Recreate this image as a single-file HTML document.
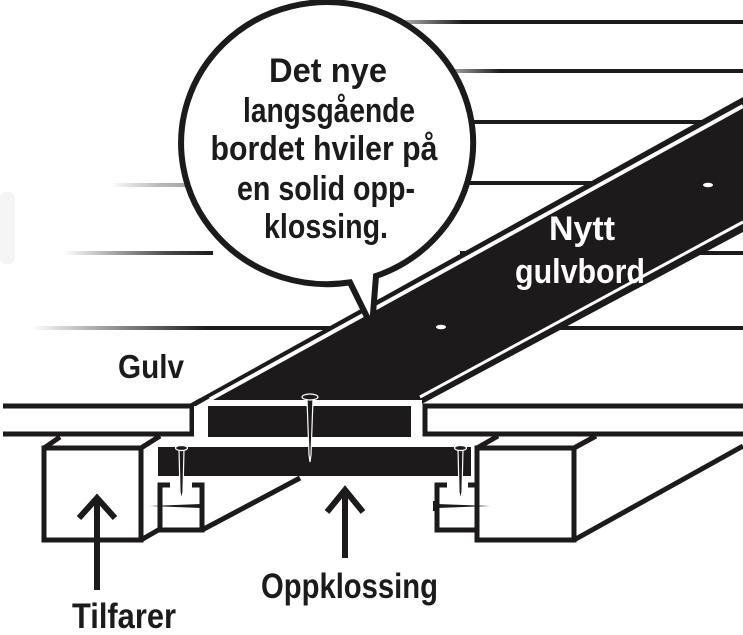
<!DOCTYPE html>
<html><head><meta charset="utf-8"><style>
html,body{margin:0;padding:0;background:#fff;}
svg{display:block;}
text{font-family:"Liberation Sans Narrow","Liberation Sans",sans-serif;font-weight:bold;}
</style></head><body>
<svg width="743" height="635" viewBox="0 0 743 635" xmlns="http://www.w3.org/2000/svg">
<defs>
<linearGradient id="g1" x1="0" x2="1"><stop offset="0" stop-color="#1c1a1a" stop-opacity="0"/><stop offset="0.25" stop-color="#1c1a1a"/><stop offset="1" stop-color="#1c1a1a"/></linearGradient>
<linearGradient id="g2" x1="0" x2="1"><stop offset="0" stop-color="#1c1a1a" stop-opacity="0"/><stop offset="0.6" stop-color="#1c1a1a" stop-opacity="0.3"/><stop offset="1" stop-color="#1c1a1a" stop-opacity="0.4"/></linearGradient>
<linearGradient id="g3" x1="0" x2="1"><stop offset="0" stop-color="#1c1a1a" stop-opacity="0"/><stop offset="0.7" stop-color="#1c1a1a" stop-opacity="0.8"/><stop offset="1" stop-color="#1c1a1a"/></linearGradient>
</defs>
<g fill="#1c1a1a">
<rect x="370" y="20" width="373" height="4" fill="url(#g1)"/>
<rect x="420" y="69" width="323" height="4" fill="url(#g1)"/>
<rect x="440" y="120" width="303" height="4"/>
<rect x="460" y="181" width="283" height="4"/>
<rect x="110" y="183" width="80" height="4" fill="url(#g2)"/>
<rect x="63" y="251" width="150" height="4" fill="url(#g3)"/>
<rect x="460" y="251" width="283" height="4"/>
<rect x="30" y="326" width="713" height="4" fill="url(#g1)"/>
</g>
<rect x="0" y="192" width="15" height="72" rx="6" fill="#f5f5f5"/>
<!-- board band -->
<polygon points="186,406 743,97 743,232 418,406" fill="#1c1a1a"/>
<line x1="198" y1="406" x2="743" y2="106" stroke="#fff" stroke-width="4"/>
<line x1="420" y1="397" x2="743" y2="222" stroke="#fff" stroke-width="3"/>
<ellipse cx="708" cy="185" rx="5" ry="2.3" fill="#fff"/>
<ellipse cx="441" cy="327" rx="5" ry="2.3" fill="#fff"/>
<text x="582" y="240" fill="#fff" font-size="34" text-anchor="middle" textLength="66" lengthAdjust="spacingAndGlyphs">Nytt</text>
<text x="580" y="283" fill="#fff" font-size="34" text-anchor="middle" textLength="130" lengthAdjust="spacingAndGlyphs">gulvbord</text>
<!-- front floor -->
<rect x="0" y="398" width="200" height="10" fill="#fff"/>
<path d="M3 406 H192 V434 H3" fill="none" stroke="#1c1a1a" stroke-width="5"/>
<path d="M743 406 H425 V434 H743" fill="none" stroke="#1c1a1a" stroke-width="5"/>
<rect x="194" y="400" width="228" height="40" fill="#fff"/>
<polygon points="186,406 200,398 210,398 196,406" fill="#1c1a1a"/>
<rect x="208" y="406" width="203" height="31" fill="#1c1a1a"/>
<!-- joists -->
<g fill="none" stroke="#1c1a1a" stroke-width="5">
<rect x="44" y="448" width="97" height="92"/>
<path d="M44 448 L60 437 M141 448 L160 436 M141 540 L160 529"/>
<rect x="477" y="448" width="97" height="92"/>
<path d="M574 448 L596 436 M574 540 L743 446 M477 448 L498 436"/>
<path d="M202 530 L300 478"/>
<path d="M170 485 H160 V530 H202 V485 H192"/>
<path d="M447 485 H437 V530 H477"/>
<path d="M468 485 H477"/>
</g>
<rect x="158" y="447" width="313" height="29" fill="#1c1a1a"/>
<!-- nails -->
<g stroke="#fff" stroke-width="1.2" fill="#1c1a1a">
<polygon points="307,399 313,399 311,455 310,462 309,455"/>
<ellipse cx="310" cy="397" rx="8" ry="3"/>
<polygon points="179,449 184,449 183,492 181.5,500 180,492"/>
<ellipse cx="181.5" cy="448" rx="6" ry="2.5"/>
<polygon points="458,449 463,449 462,492 460.5,500 459,492"/>
<ellipse cx="460.5" cy="448" rx="6" ry="2.5"/>
</g>
<g fill="#1c1a1a">
<polygon points="150,506 201,504 201,508"/>
<rect x="201" y="501" width="3" height="10"/>
<polygon points="490,506 437,504 437,508"/>
<rect x="433" y="501" width="3" height="10"/>
</g>
<!-- arrows -->
<g stroke="#1c1a1a" stroke-width="6" fill="none">
<path d="M97 590 V500 M79 518 L97 498 L115 518"/>
<path d="M345 558 V492 M327 512 L345 490 L363 512"/>
</g>
<!-- bubble -->
<path d="M350 282.4 A146 141 0 1 1 376 276 L372 327 Z" fill="#fff" stroke="#1c1a1a" stroke-width="6" stroke-linejoin="miter"/>
<g fill="#1c1a1a" font-size="34" text-anchor="middle">
<text x="328" y="82" textLength="118" lengthAdjust="spacingAndGlyphs">Det nye</text>
<text x="329" y="122" textLength="172" lengthAdjust="spacingAndGlyphs">langsgående</text>
<text x="324" y="160" textLength="227" lengthAdjust="spacingAndGlyphs">bordet hviler på</text>
<text x="326" y="200" textLength="178" lengthAdjust="spacingAndGlyphs">en solid opp-</text>
<text x="326" y="238" textLength="124" lengthAdjust="spacingAndGlyphs">klossing.</text>
</g>
<g fill="#1c1a1a">
<text x="118" y="378" font-size="33" textLength="66" lengthAdjust="spacingAndGlyphs">Gulv</text>
<text x="261" y="598" font-size="35" textLength="177" lengthAdjust="spacingAndGlyphs">Oppklossing</text>
<text x="72" y="628" font-size="35" textLength="104" lengthAdjust="spacingAndGlyphs">Tilfarer</text>
</g>
</svg>
</body></html>
